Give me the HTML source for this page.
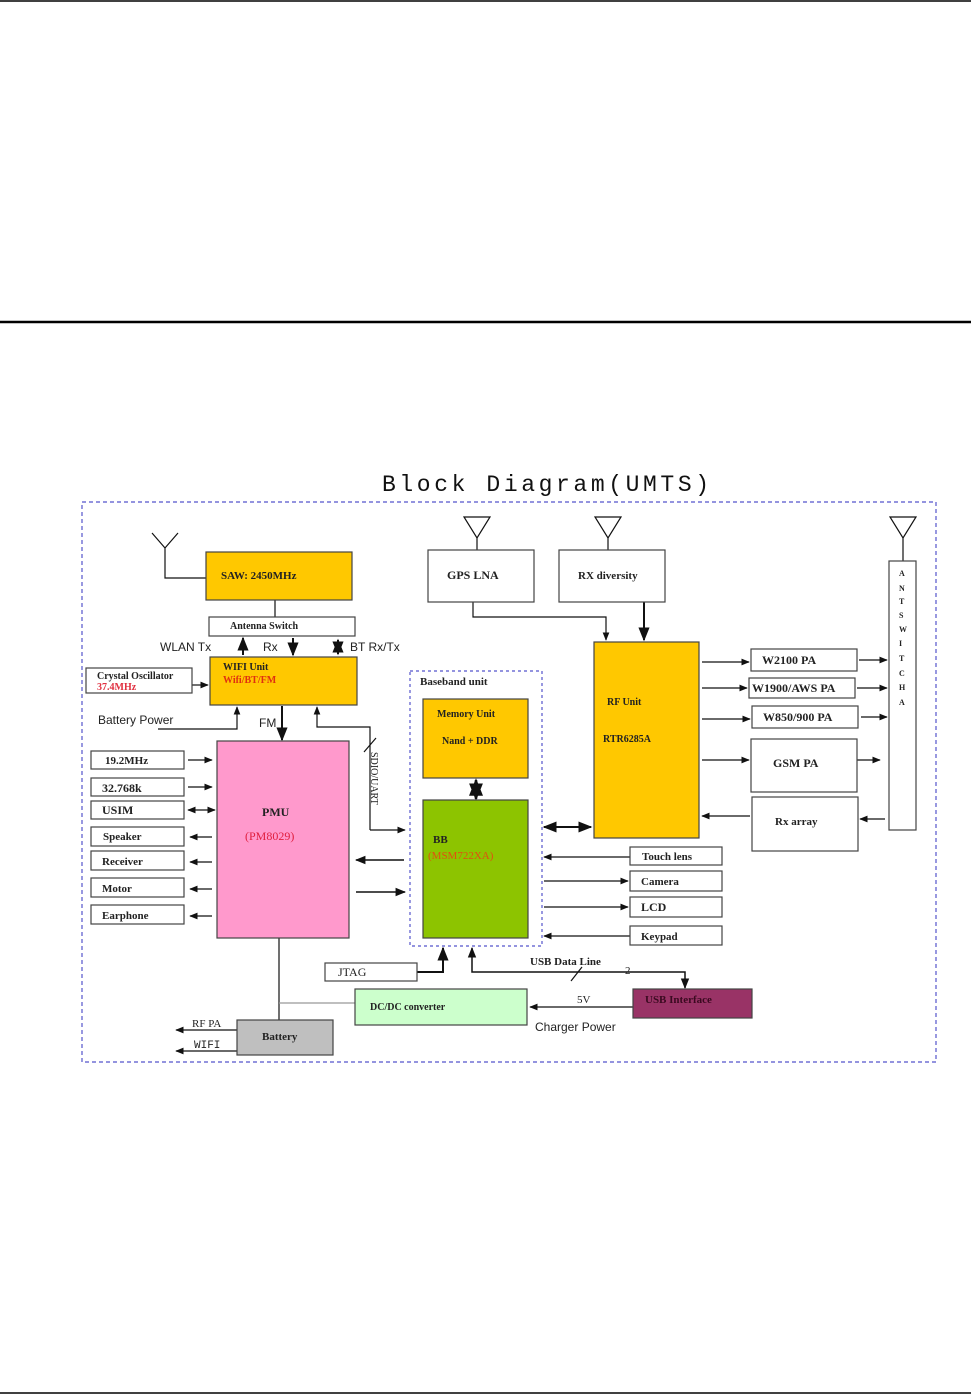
<!DOCTYPE html>
<html><head><meta charset="utf-8"><style>
html,body{margin:0;padding:0;background:#fff}
svg{display:block}
text{font-family:"Liberation Serif",serif;font-weight:bold;font-size:11px;fill:#222}
.s{font-family:"Liberation Sans",sans-serif;font-weight:normal;font-size:12px}
</style></head><body>
<svg width="971" height="1395" viewBox="0 0 971 1395" xmlns="http://www.w3.org/2000/svg">
<defs>
<marker id="a" viewBox="0 0 10 10" refX="9" refY="5" markerWidth="7" markerHeight="7" orient="auto-start-reverse"><path d="M0,1 L10,5 L0,9 z" fill="#111"/></marker>
</defs>
<line x1="0" y1="1" x2="971" y2="1" stroke="#000" stroke-width="1.5"/>
<line x1="0" y1="322" x2="971" y2="322" stroke="#000" stroke-width="2.5"/>
<line x1="0" y1="1393" x2="971" y2="1393" stroke="#000" stroke-width="1.5"/>

<text x="382" y="491" style="font-family:'Liberation Mono',monospace;font-weight:normal;font-size:23px;fill:#111;letter-spacing:3.6px">Block Diagram(UMTS)</text>
<rect x="82" y="502" width="854" height="560" fill="none" stroke="#5555cc" stroke-dasharray="4,3" stroke-width="1.2"/>

<g stroke="#111" stroke-width="1.2" fill="none">
<path d="M152,533 L165,548 L178,533 M165,548 V578 H206"/>
<line x1="275" y1="600" x2="275" y2="617"/>
<path d="M464,517 H490 L477,538 Z M477,538 V550"/>
<path d="M595,517 H621 L608,538 Z M608,538 V550"/>
<path d="M890,517 H916 L903,538 Z M903,538 V561"/>
<path d="M473,602 V617 H606 V640" marker-end="url(#a)"/>
<path d="M644,602 V640" marker-end="url(#a)" stroke-width="2"/>
<path d="M243,655 V638" marker-end="url(#a)" stroke-width="2"/>
<path d="M293,638 V655" marker-end="url(#a)" stroke-width="2"/>
<path d="M338,640 V654" marker-end="url(#a)" marker-start="url(#a)" stroke-width="2"/>
<path d="M192,685 H208" marker-end="url(#a)"/>
<path d="M158,729 H237 V707" marker-end="url(#a)"/>
<path d="M282,706 V740" marker-end="url(#a)" stroke-width="2"/>
<path d="M370,830 V727 H317 V707" marker-end="url(#a)"/>
<path d="M370,830 H405" marker-end="url(#a)"/>
<line x1="364" y1="752" x2="376" y2="738"/>
<path d="M188,760 H212" marker-end="url(#a)"/>
<path d="M188,787 H212" marker-end="url(#a)"/>
<path d="M188,810 H215" marker-end="url(#a)" marker-start="url(#a)"/>
<path d="M212,837 H190" marker-end="url(#a)"/>
<path d="M212,862 H190" marker-end="url(#a)"/>
<path d="M212,889 H190" marker-end="url(#a)"/>
<path d="M212,916 H190" marker-end="url(#a)"/>
<path d="M404,860 H356" marker-end="url(#a)" stroke-width="1.5"/>
<path d="M356,892 H405" marker-end="url(#a)" stroke-width="1.5"/>
<path d="M476,780 V799" marker-end="url(#a)" marker-start="url(#a)" stroke-width="2.5"/>
<path d="M544,827 H591" marker-end="url(#a)" marker-start="url(#a)" stroke-width="2"/>
<path d="M702,662 H749" marker-end="url(#a)"/>
<path d="M702,688 H747" marker-end="url(#a)"/>
<path d="M702,719 H750" marker-end="url(#a)"/>
<path d="M702,760 H749" marker-end="url(#a)"/>
<path d="M750,816 H702" marker-end="url(#a)"/>
<path d="M859,660 H887" marker-end="url(#a)"/>
<path d="M857,688 H887" marker-end="url(#a)"/>
<path d="M861,717 H887" marker-end="url(#a)"/>
<path d="M857,760 H880" marker-end="url(#a)"/>
<path d="M885,819 H860" marker-end="url(#a)"/>
<path d="M630,857 H544" marker-end="url(#a)"/>
<path d="M544,881 H628" marker-end="url(#a)"/>
<path d="M544,907 H628" marker-end="url(#a)"/>
<path d="M630,936 H544" marker-end="url(#a)"/>
<path d="M417,972 H443 V948" marker-end="url(#a)" stroke-width="2"/>
<path d="M685,988 V972 H472 V948" marker-end="url(#a)" marker-start="url(#a)" stroke-width="1.5"/>
<line x1="571" y1="981" x2="582" y2="967"/>
<path d="M633,1007 H530" marker-end="url(#a)"/>
<path d="M279,938 V1020"/>
<path d="M279,1003 H355" stroke="#999"/>
<path d="M237,1030 H176" marker-end="url(#a)"/>
<path d="M237,1051 H176" marker-end="url(#a)"/>
</g>

<g stroke="#444" stroke-width="1.2">
<rect x="206" y="552" width="146" height="48" fill="#FFC800"/>
<rect x="209" y="617" width="146" height="19" fill="#fff"/>
<rect x="210" y="657" width="147" height="48" fill="#FFC800"/>
<rect x="86" y="668" width="106" height="25" fill="#fff"/>
<rect x="217" y="741" width="132" height="197" fill="#FF99CC"/>
<rect x="91" y="751" width="93" height="18" fill="#fff"/>
<rect x="91" y="778" width="93" height="18" fill="#fff"/>
<rect x="91" y="801" width="93" height="18" fill="#fff"/>
<rect x="91" y="827" width="93" height="19" fill="#fff"/>
<rect x="91" y="851" width="93" height="19" fill="#fff"/>
<rect x="91" y="878" width="93" height="19" fill="#fff"/>
<rect x="91" y="905" width="93" height="19" fill="#fff"/>
<rect x="410" y="671" width="132" height="275" fill="none" stroke="#5555cc" stroke-dasharray="3,3"/>
<rect x="423" y="699" width="105" height="79" fill="#FFC800"/>
<rect x="423" y="800" width="105" height="138" fill="#8DC400"/>
<rect x="594" y="642" width="105" height="196" fill="#FFC800"/>
<rect x="428" y="550" width="106" height="52" fill="#fff"/>
<rect x="559" y="550" width="106" height="52" fill="#fff"/>
<rect x="889" y="561" width="27" height="269" fill="#fff"/>
<rect x="751" y="649" width="106" height="22" fill="#fff"/>
<rect x="749" y="678" width="106" height="20" fill="#fff"/>
<rect x="752" y="706" width="106" height="22" fill="#fff"/>
<rect x="751" y="739" width="106" height="53" fill="#fff"/>
<rect x="752" y="797" width="106" height="54" fill="#fff"/>
<rect x="630" y="847" width="92" height="18" fill="#fff"/>
<rect x="630" y="871" width="92" height="20" fill="#fff"/>
<rect x="630" y="897" width="92" height="20" fill="#fff"/>
<rect x="630" y="926" width="92" height="19" fill="#fff"/>
<rect x="325" y="963" width="92" height="18" fill="#fff"/>
<rect x="355" y="989" width="172" height="36" fill="#CCFFCC"/>
<rect x="633" y="989" width="119" height="29" fill="#993366"/>
<rect x="237" y="1020" width="96" height="35" fill="#BFBFBF"/>
</g>

<text x="221" y="579">SAW: 2450MHz</text>
<text x="230" y="629" style="font-size:10px">Antenna  Switch</text>
<text x="160" y="651" class="s">WLAN Tx</text>
<text x="263" y="651" class="s">Rx</text>
<text x="350" y="651" class="s">BT Rx/Tx</text>
<text x="223" y="670" style="font-size:10px">WIFI Unit</text>
<text x="223" y="683" style="font-size:10px;fill:#e03010">Wifi/BT/FM</text>
<text x="97" y="679" style="font-size:10px">Crystal Oscillator</text>
<text x="97" y="690" style="font-size:10px;fill:#e03040">37.4MHz</text>
<text x="98" y="724" class="s">Battery Power</text>
<text x="259" y="727" class="s">FM</text>
<text x="371" y="752" transform="rotate(90 371 752)" style="font-size:10px;font-weight:normal">SDIO/UART</text>
<text x="105" y="764">19.2MHz</text>
<text x="102" y="792" style="font-size:12px">32.768k</text>
<text x="102" y="814" style="font-size:12px">USIM</text>
<text x="103" y="840">Speaker</text>
<text x="102" y="865">Receiver</text>
<text x="102" y="892">Motor</text>
<text x="102" y="919">Earphone</text>
<text x="262" y="816" style="font-size:12px">PMU</text>
<text x="245" y="840" style="font-size:12px;fill:#e02040;font-weight:normal">(PM8029)</text>
<text x="420" y="685">Baseband unit</text>
<text x="437" y="717" style="font-size:10px">Memory Unit</text>
<text x="442" y="744" style="font-size:10px">Nand + DDR</text>
<text x="433" y="843">BB</text>
<text x="428" y="859" style="fill:#e05010;font-weight:normal">(MSM722XA)</text>
<text x="607" y="705" style="font-size:10px">RF Unit</text>
<text x="603" y="742" style="font-size:10px">RTR6285A</text>
<text x="447" y="579" style="font-size:12px">GPS LNA</text>
<text x="578" y="579">RX diversity</text>
<text x="899" y="576" style="font-size:8px">A</text>
<text x="899" y="591" style="font-size:8px">N</text>
<text x="899" y="604" style="font-size:8px">T</text>
<text x="899" y="618" style="font-size:8px">S</text>
<text x="899" y="632" style="font-size:8px">W</text>
<text x="899" y="646" style="font-size:8px">I</text>
<text x="899" y="661" style="font-size:8px">T</text>
<text x="899" y="676" style="font-size:8px">C</text>
<text x="899" y="690" style="font-size:8px">H</text>
<text x="899" y="705" style="font-size:8px">A</text>
<text x="762" y="664" style="font-size:12px">W2100 PA</text>
<text x="752" y="692" style="font-size:12px">W1900/AWS PA</text>
<text x="763" y="721" style="font-size:12px">W850/900 PA</text>
<text x="773" y="767" style="font-size:12px">GSM PA</text>
<text x="775" y="825">Rx array</text>
<text x="642" y="860">Touch lens</text>
<text x="641" y="885">Camera</text>
<text x="641" y="911" style="font-size:12px">LCD</text>
<text x="641" y="940">Keypad</text>
<text x="338" y="976" style="font-size:12px;font-weight:normal">JTAG</text>
<text x="530" y="965">USB Data Line</text>
<text x="625" y="974" style="font-weight:normal">2</text>
<text x="370" y="1010" style="font-size:10px">DC/DC converter</text>
<text x="577" y="1003" style="font-weight:normal">5V</text>
<text x="645" y="1003" style="fill:#3a0a20;font-size:11px">USB Interface</text>
<text x="535" y="1031" class="s">Charger Power</text>
<text x="262" y="1040">Battery</text>
<text x="192" y="1027" style="font-weight:normal">RF PA</text>
<text x="194" y="1048" style="font-family:'Liberation Mono',monospace;font-weight:normal">WIFI</text>
</svg>
</body></html>
